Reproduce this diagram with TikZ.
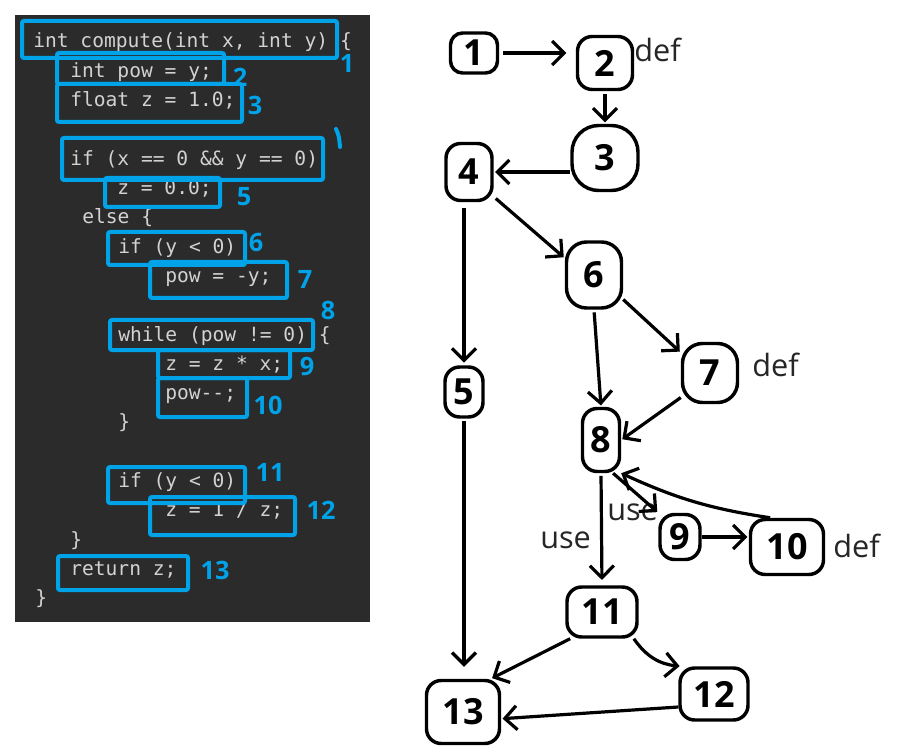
\documentclass[tikz,border=0pt]{standalone}
\usepackage{fontspec}
\setmainfont{Open Sans}
\newfontfamily\codefont[Ligatures=TeXOff]{DejaVu Sans Mono}
\usetikzlibrary{arrows.meta}
\definecolor{panel}{HTML}{2B2B2B}
\definecolor{codetext}{HTML}{D2D2D2}
\definecolor{hlblue}{HTML}{00A2E8}
\begin{document}
\begin{tikzpicture}[x=0.75pt,y=-0.75pt,
  codeline/.style={anchor=base west, inner sep=0, text=codetext, font=\codefont\fontsize{14.7}{17}\selectfont},
  hlbox/.style={draw=hlblue, line width=3pt, rounded corners=1.5pt},
  hlnum/.style={text=hlblue, font=\bfseries\fontsize{19}{19}\selectfont, inner sep=0},
  gnode/.style 2 args={draw, line width=2.6pt, rounded corners=11pt, minimum width=#1*0.75pt, minimum height=#2*0.75pt, inner sep=0, font=\bfseries\fontsize{27}{27}\selectfont},
  arr/.style={line width=2.4pt, -{Straight Barb[length=9pt,width=18pt]}, shorten >=1pt},
  lbl/.style={anchor=base west, inner sep=0, font=\fontsize{23}{23}\selectfont, text=black!85}
]
\useasboundingbox (0,0) rectangle (897,756);
\fill[white] (0,0) rectangle (897,756);

% ---- code panel ----
\fill[panel] (15,15) rectangle (370,622);
\node[codeline] (c0)  at (33, 48.0)  {int compute(int x, int y) \{};
\node[codeline] (c1)  at (70, 77.3)  {int pow = y;};
\node[codeline] (c2)  at (70, 106.6) {float z = 1.0;};
\node[codeline] (c4)  at (70, 165.2) {if (x == 0 \&\& y == 0)};
\node[codeline] (c5)  at (117,194.5) {z = 0.0;};
\node[codeline] (c6)  at (82, 223.8) {else \{};
\node[codeline] (c7)  at (118,253.1) {if (y < 0)};
\node[codeline] (c8)  at (165,282.4) {pow = -y;};
\node[codeline] (c10) at (118,341.0) {while (pow != 0) \{};
\node[codeline] (c11) at (165,370.3) {z = z * x;};
\node[codeline] (c12) at (165,399.6) {pow--;};
\node[codeline] (c13) at (118,428.9) {\}};
\node[codeline] (c15) at (118,487.5) {if (y < 0)};
\node[codeline] (c16) at (165,516.8) {z = 1 / z;};
\node[codeline] (c17) at (70, 546.1) {\}};
\node[codeline] (c18) at (70, 575.4) {return z;};
\node[codeline] (c19) at (35, 604.7) {\}};

% ---- blue highlight boxes ----
\draw[hlbox] (22,21) rectangle (337,58);
\draw[hlbox] (57,53) rectangle (224,84);
\draw[hlbox] (57,84) rectangle (242,122);
\draw[hlbox] (62,138) rectangle (323,180);
\draw[hlbox] (105,178) rectangle (220,207);
\draw[hlbox] (108,232) rectangle (245,265);
\draw[hlbox] (150,262) rectangle (287,298);
\draw[hlbox] (110,320) rectangle (313,350);
\draw[hlbox] (158,350) rectangle (290,378);
\draw[hlbox] (158,378) rectangle (247,417);
\draw[hlbox] (108,467) rectangle (245,503);
\draw[hlbox] (150,497) rectangle (295,535);
\draw[hlbox] (58,556) rectangle (188,590);

% ---- blue hand labels ----
\node[hlnum] (h1) at (347,63) {1};
\node[hlnum] (h2) at (240,77) {2};
\node[hlnum] (h3) at (255,105) {3};
\draw[hlblue, line width=3pt, line cap=round] (336,129) .. controls (339,136) .. (340,147);
\node[hlnum] (h5) at (244,197) {5};
\node[hlnum] (h6) at (256,242) {6};
\node[hlnum] (h7) at (305,279) {7};
\node[hlnum] (h8) at (328,310) {8};
\node[hlnum] (h9) at (307,366) {9};
\node[hlnum] (h10) at (268,405) {10};
\node[hlnum] (h11) at (270,472) {11};
\node[hlnum] (h12) at (321,510) {12};
\node[hlnum] (h13) at (215,570) {13};

% ---- graph nodes ----
\node[gnode={47}{40}, rounded corners=9pt] (n1) at (474,53) {1};
\node[gnode={55}{53}] (n2) at (605,63) {2};
\node[gnode={66}{65}, rounded corners=20pt] (n3) at (605,158) {3};
\node[gnode={46}{57}] (n4) at (469,172) {4};
\node[gnode={38}{50}] (n5) at (464,392) {5};
\node[gnode={55}{66}, rounded corners=15pt] (n6) at (594,275) {6};
\node[gnode={55}{59}, rounded corners=15pt] (n7) at (710,373) {7};
\node[gnode={37}{63}] (n8) at (601,440) {8};
\node[gnode={40}{45}] (n9) at (680,537) {9};
\node[gnode={73}{55}] (n10) at (787,547) {10};
\node[gnode={70}{50}] (n11) at (602,612) {11};
\node[gnode={68}{52}] (n12) at (714,694) {12};
\node[gnode={73}{63}] (n13) at (463,712) {13};

% ---- text labels ----
\node[lbl] (d2) at (634,62) {def};
\node[lbl] (d7) at (752,377) {def};
\node[lbl] (d10) at (833,557) {def};
\node[lbl] (u1) at (540,548) {use};
\node[lbl] (u2) at (607,520) {use};

% ---- connectors ----
\draw[arr, shorten <=3pt, shorten >=7pt] (n1.east) -- (n1.east -| n2.west);
\draw[arr, shorten <=2pt] (n2.south) -- (n3.north);
\draw[arr] (n3.west |- n4.east) -- (n4.east);
\draw[arr, shorten <=4pt, shorten >=2pt] (n4.south -| n5.north) -- (n5.north);
\draw[arr, shorten <=2pt] (n4.-45) -- (n6.150);
\draw[arr, shorten <=2pt, shorten >=9pt] (n5.south) -- (n13.north -| n5.south);
\draw[arr] (n6.-40) -- (n7.145);
\draw[arr, shorten <=2pt] (n6.south) -- (n8.north);
\draw[arr] (n7.-140) -- (n8.east);
\draw[arr] (n8.-70) -- (n9.north west);
\draw[arr] (n9.east) -- (n10.west |- n9.east);
\draw[arr, shorten >=0pt] (n10.120) to[bend left=8] (n8.south east);
\draw[arr, shorten <=2pt, shorten >=4pt] (n8.south) -- (n11.north);
\draw[arr] (n11.-40) to[bend right=25] (n12.140);
\draw[arr] (n11.-140) -- (n13.50);
\draw[arr] (n12.-160) -- (n13.-10);
\end{tikzpicture}
\end{document}
